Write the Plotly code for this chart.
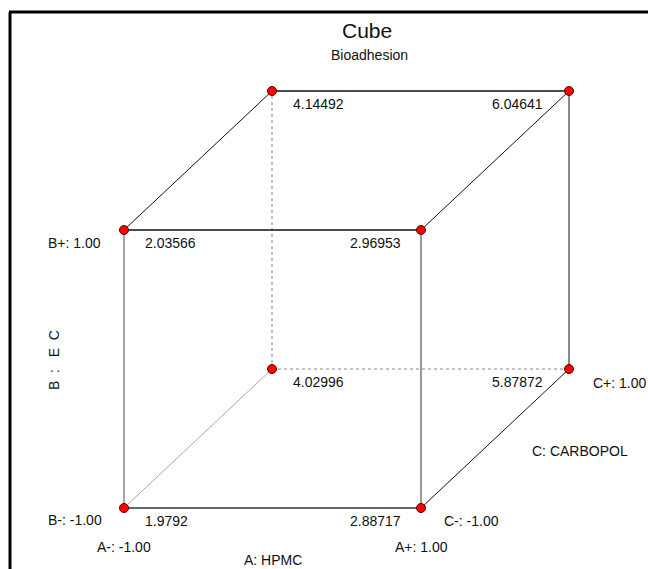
import plotly.graph_objects as go

# ---- data ----
A_levels = [-1, 1, -1, 1, -1, 1, -1, 1]
B_levels = [-1, -1, 1, 1, -1, -1, 1, 1]
C_levels = [-1, -1, -1, -1, 1, 1, 1, 1]
response = [1.9792, 2.88717, 2.03566, 2.96953, 4.02996, 5.87872, 4.14492, 6.04641]
value_text = ["1.9792", "2.88717", "2.03566", "2.96953", "4.02996", "5.87872", "4.14492", "6.04641"]
factor_names = ["A: HPMC", "B&nbsp;&nbsp;:&nbsp;&nbsp;&nbsp;E&nbsp;&nbsp;C", "C: CARBOPOL"]
low_high = ["-1.00", "1.00"]
title = "Cube"
subtitle = "Bioadhesion"

W, H = 648, 569
FONT = "Liberation Sans, Arial, sans-serif"

# oblique projection of the coded levels to the drawing plane
def px(a, b, c):
    return 346.5 + 148.5 * a + 74 * c

def py(a, b, c):
    return 299.5 - 139 * b - 69.5 * c

fig = go.Figure()

def edge(p, q, color, width, dash="solid"):
    fig.add_trace(go.Scatter(
        x=[px(*p), px(*q)], y=[py(*p), py(*q)], mode="lines",
        line=dict(color=color, width=width, dash=dash),
        hoverinfo="skip", showlegend=False))

# hidden edges
edge((-1, -1, -1), (-1, -1, 1), "#a8a8a8", 1)
edge((-1, -1, 1), (-1, 1, 1), "#888888", 1, "dot")
edge((-1, -1, 1), (1, -1, 1), "#888888", 1, "dot")
# visible edges
edge((-1, -1, -1), (1, -1, -1), "#666666", 2)
edge((-1, -1, -1), (-1, 1, -1), "#888888", 1.5)
edge((1, -1, -1), (1, 1, -1), "#333333", 1)
edge((-1, 1, -1), (1, 1, -1), "#111111", 1.5)
edge((-1, 1, 1), (1, 1, 1), "#111111", 1.5)
edge((-1, 1, -1), (-1, 1, 1), "#111111", 1)
edge((1, 1, -1), (1, 1, 1), "#111111", 1)
edge((1, -1, -1), (1, -1, 1), "#111111", 1)
edge((1, -1, 1), (1, 1, 1), "#888888", 2)

# corner points
xs = [px(a, b, c) for a, b, c in zip(A_levels, B_levels, C_levels)]
ys = [py(a, b, c) for a, b, c in zip(A_levels, B_levels, C_levels)]
fig.add_trace(go.Scatter(
    x=xs, y=ys, mode="markers",
    marker=dict(color="#ff0000", size=9, line=dict(color="#550000", width=1)),
    customdata=response, hovertemplate="%{customdata}<extra></extra>",
    showlegend=False))

ann = []
def label(x, y, text, xanchor="center", size=14, angle=0):
    ann.append(dict(x=x, y=y, text=text, showarrow=False, xanchor=xanchor,
                    yanchor="middle", textangle=angle,
                    font=dict(family=FONT, size=size, color="#111111")))

# response values at corners
for a, b, c, t in zip(A_levels, B_levels, C_levels, value_text):
    x0, y0 = px(a, b, c), py(a, b, c)
    if a < 0:
        label(x0 + 19, y0 + 13, t, "left")
    else:
        label(x0 - (18 if c < 0 else 24), y0 + 13, t, "right")

# factor level labels
label(px(-1, -1, -1) - 20, py(-1, -1, -1) + 12, "B-: " + low_high[0], "right")
label(px(-1, 1, -1) - 21, py(-1, 1, -1) + 13, "B+: " + low_high[1], "right")
label(px(-1, -1, -1), py(-1, -1, -1) + 39, "A-: " + low_high[0], "center")
label(px(1, -1, -1), py(1, -1, -1) + 39, "A+: " + low_high[1], "center")
label(px(0, -1, -1), py(0, -1, -1) + 52, factor_names[0], "center")
label(px(1, -1, -1) + 21, py(1, -1, -1) + 13, "C-: " + low_high[0], "left")
label(px(1, -1, 1) + 22, py(1, -1, 1) + 14, "C+: " + low_high[1], "left")
label(px(1, -1, 0) + 85, py(1, -1, 0) + 12, factor_names[2], "center")
label(54, 360, factor_names[1], "center", 14, -90)

# titles
label(367, 30, title, "center", 21)
label(369, 55, subtitle, "center", 14)

fig.update_layout(
    width=W, height=H, margin=dict(l=0, r=0, t=0, b=0),
    paper_bgcolor="white", plot_bgcolor="white",
    xaxis=dict(range=[0, W], visible=False, fixedrange=True),
    yaxis=dict(range=[H, 0], visible=False, fixedrange=True),
    annotations=ann,
    shapes=[
        dict(type="line", x0=9, x1=W, y0=12, y1=12, line=dict(color="black", width=3)),
        dict(type="line", x0=10, x1=10, y0=12, y1=H, line=dict(color="black", width=3)),
    ],
)

fig.write_html("out.html")
